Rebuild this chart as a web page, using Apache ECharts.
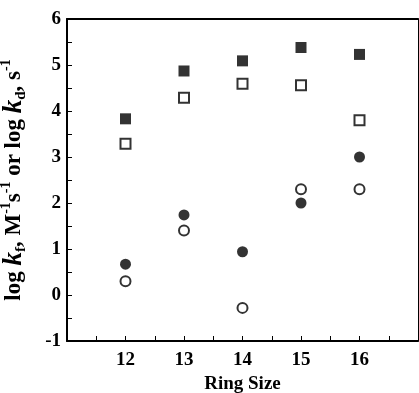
<!DOCTYPE html>
<html>
<head>
<meta charset="utf-8">
<script src="https://cdn.jsdelivr.net/npm/echarts@6/dist/echarts.min.js"></script>
<style>
  html, body { margin: 0; padding: 0; background: #fff; }
  #chart { width: 419px; height: 393px; }
</style>
</head>
<body>
<div id="chart"></div>
<script>
// ring sizes and rate constants
const ringSizes = [12, 13, 14, 15, 16];
const filledSquares = [3.83, 4.87, 5.09, 5.38, 5.23];
const openSquares = [3.29, 4.29, 4.59, 4.56, 3.80];
const filledCircles = [0.67, 1.74, 0.94, 2.00, 3.00];
const openCircles = [0.30, 1.40, -0.28, 2.30, 2.30];

const font = 'Liberation Serif, Times New Roman, serif';
const pairs = vals => ringSizes.map((x, i) => [x, vals[i]]);

function scatter(name, vals, symbol, size, filled) {
    return {
        name: name,
        type: 'scatter',
        data: pairs(vals),
        symbol: symbol,
        symbolSize: size,
        itemStyle: filled
            ? { color: '#000', borderWidth: 0 }
            : { color: '#fff', borderColor: '#000', borderWidth: 2 }
    };
}

const chart = echarts.init(document.getElementById('chart'));
chart.setOption({
    animation: false,
    backgroundColor: '#fff',
    grid: { left: 67, top: 19, right: 1, bottom: 52, outerBoundsMode: 'none', containLabel: false },
    xAxis: [{
        type: 'value',
        min: 11, max: 17, interval: 1,
        name: 'Ring Size',
        nameLocation: 'middle',
        nameGap: 34,
        nameTextStyle: { fontFamily: font, fontWeight: 'bold', fontSize: 19, color: '#000' },
        axisLine: { onZero: false, lineStyle: { color: '#000', width: 2 } },
        axisTick: { inside: true, length: 5, lineStyle: { color: '#000', width: 1 } },
        minorTick: { show: true, splitNumber: 2, length: 5, lineStyle: { color: '#000', width: 1 } },
        splitLine: { show: false },
        axisLabel: {
            margin: 10,
            fontFamily: font, fontWeight: 'bold', fontSize: 19, color: '#000',
            formatter: v => (v === 11 || v === 17) ? '' : String(v)
        }
    }, {
        type: 'value', position: 'top',
        min: 11, max: 17,
        axisLine: { show: true, onZero: false, lineStyle: { color: '#000', width: 2 } },
        axisTick: { show: false }, axisLabel: { show: false }, splitLine: { show: false }
    }],
    yAxis: [{
        type: 'value',
        min: -1, max: 6, interval: 1,
        name: '{t|log }{k|k}{sub|f}{t|, M}{sup|-1}{t|s}{sup|-1}{t| or log }{k|k}{sub|d}{t|, s}{sup|-1}',
        nameLocation: 'middle',
        nameRotate: 90,
        nameGap: 38,
        nameTextStyle: {
            fontFamily: font, fontWeight: 'bold', fontSize: 23, color: '#000',
            rich: {
                t: { fontFamily: font, fontWeight: 'bold', fontSize: 23, lineHeight: 30, verticalAlign: 'middle' },
                k: { fontFamily: font, fontWeight: 'bold', fontStyle: 'italic', fontSize: 27, lineHeight: 30, verticalAlign: 'middle' },
                sub: { fontFamily: font, fontWeight: 'bold', fontSize: 15, lineHeight: 30, verticalAlign: 'bottom' },
                sup: { fontFamily: font, fontWeight: 'bold', fontSize: 14, lineHeight: 30, verticalAlign: 'top' }
            }
        },
        axisLine: { show: true, onZero: false, lineStyle: { color: '#000', width: 2 } },
        axisTick: { inside: true, length: 5, lineStyle: { color: '#000', width: 1 } },
        minorTick: { show: true, splitNumber: 2, length: 5, lineStyle: { color: '#000', width: 1 } },
        splitLine: { show: false },
        axisLabel: { margin: 6, fontFamily: font, fontWeight: 'bold', fontSize: 19, color: '#000' }
    }, {
        type: 'value', position: 'right',
        min: -1, max: 6,
        axisLine: { show: true, onZero: false, lineStyle: { color: '#000', width: 1 } },
        axisTick: { show: false }, axisLabel: { show: false }, splitLine: { show: false }
    }],
    series: [
        scatter('log kf (filled square)', filledSquares, 'rect', 11, true),
        scatter('log kd (open square)', openSquares, 'rect', 10, false),
        scatter('log kf (filled circle)', filledCircles, 'circle', 11, true),
        scatter('log kd (open circle)', openCircles, 'circle', 10, false)
    ]
});
</script>
</body>
</html>
